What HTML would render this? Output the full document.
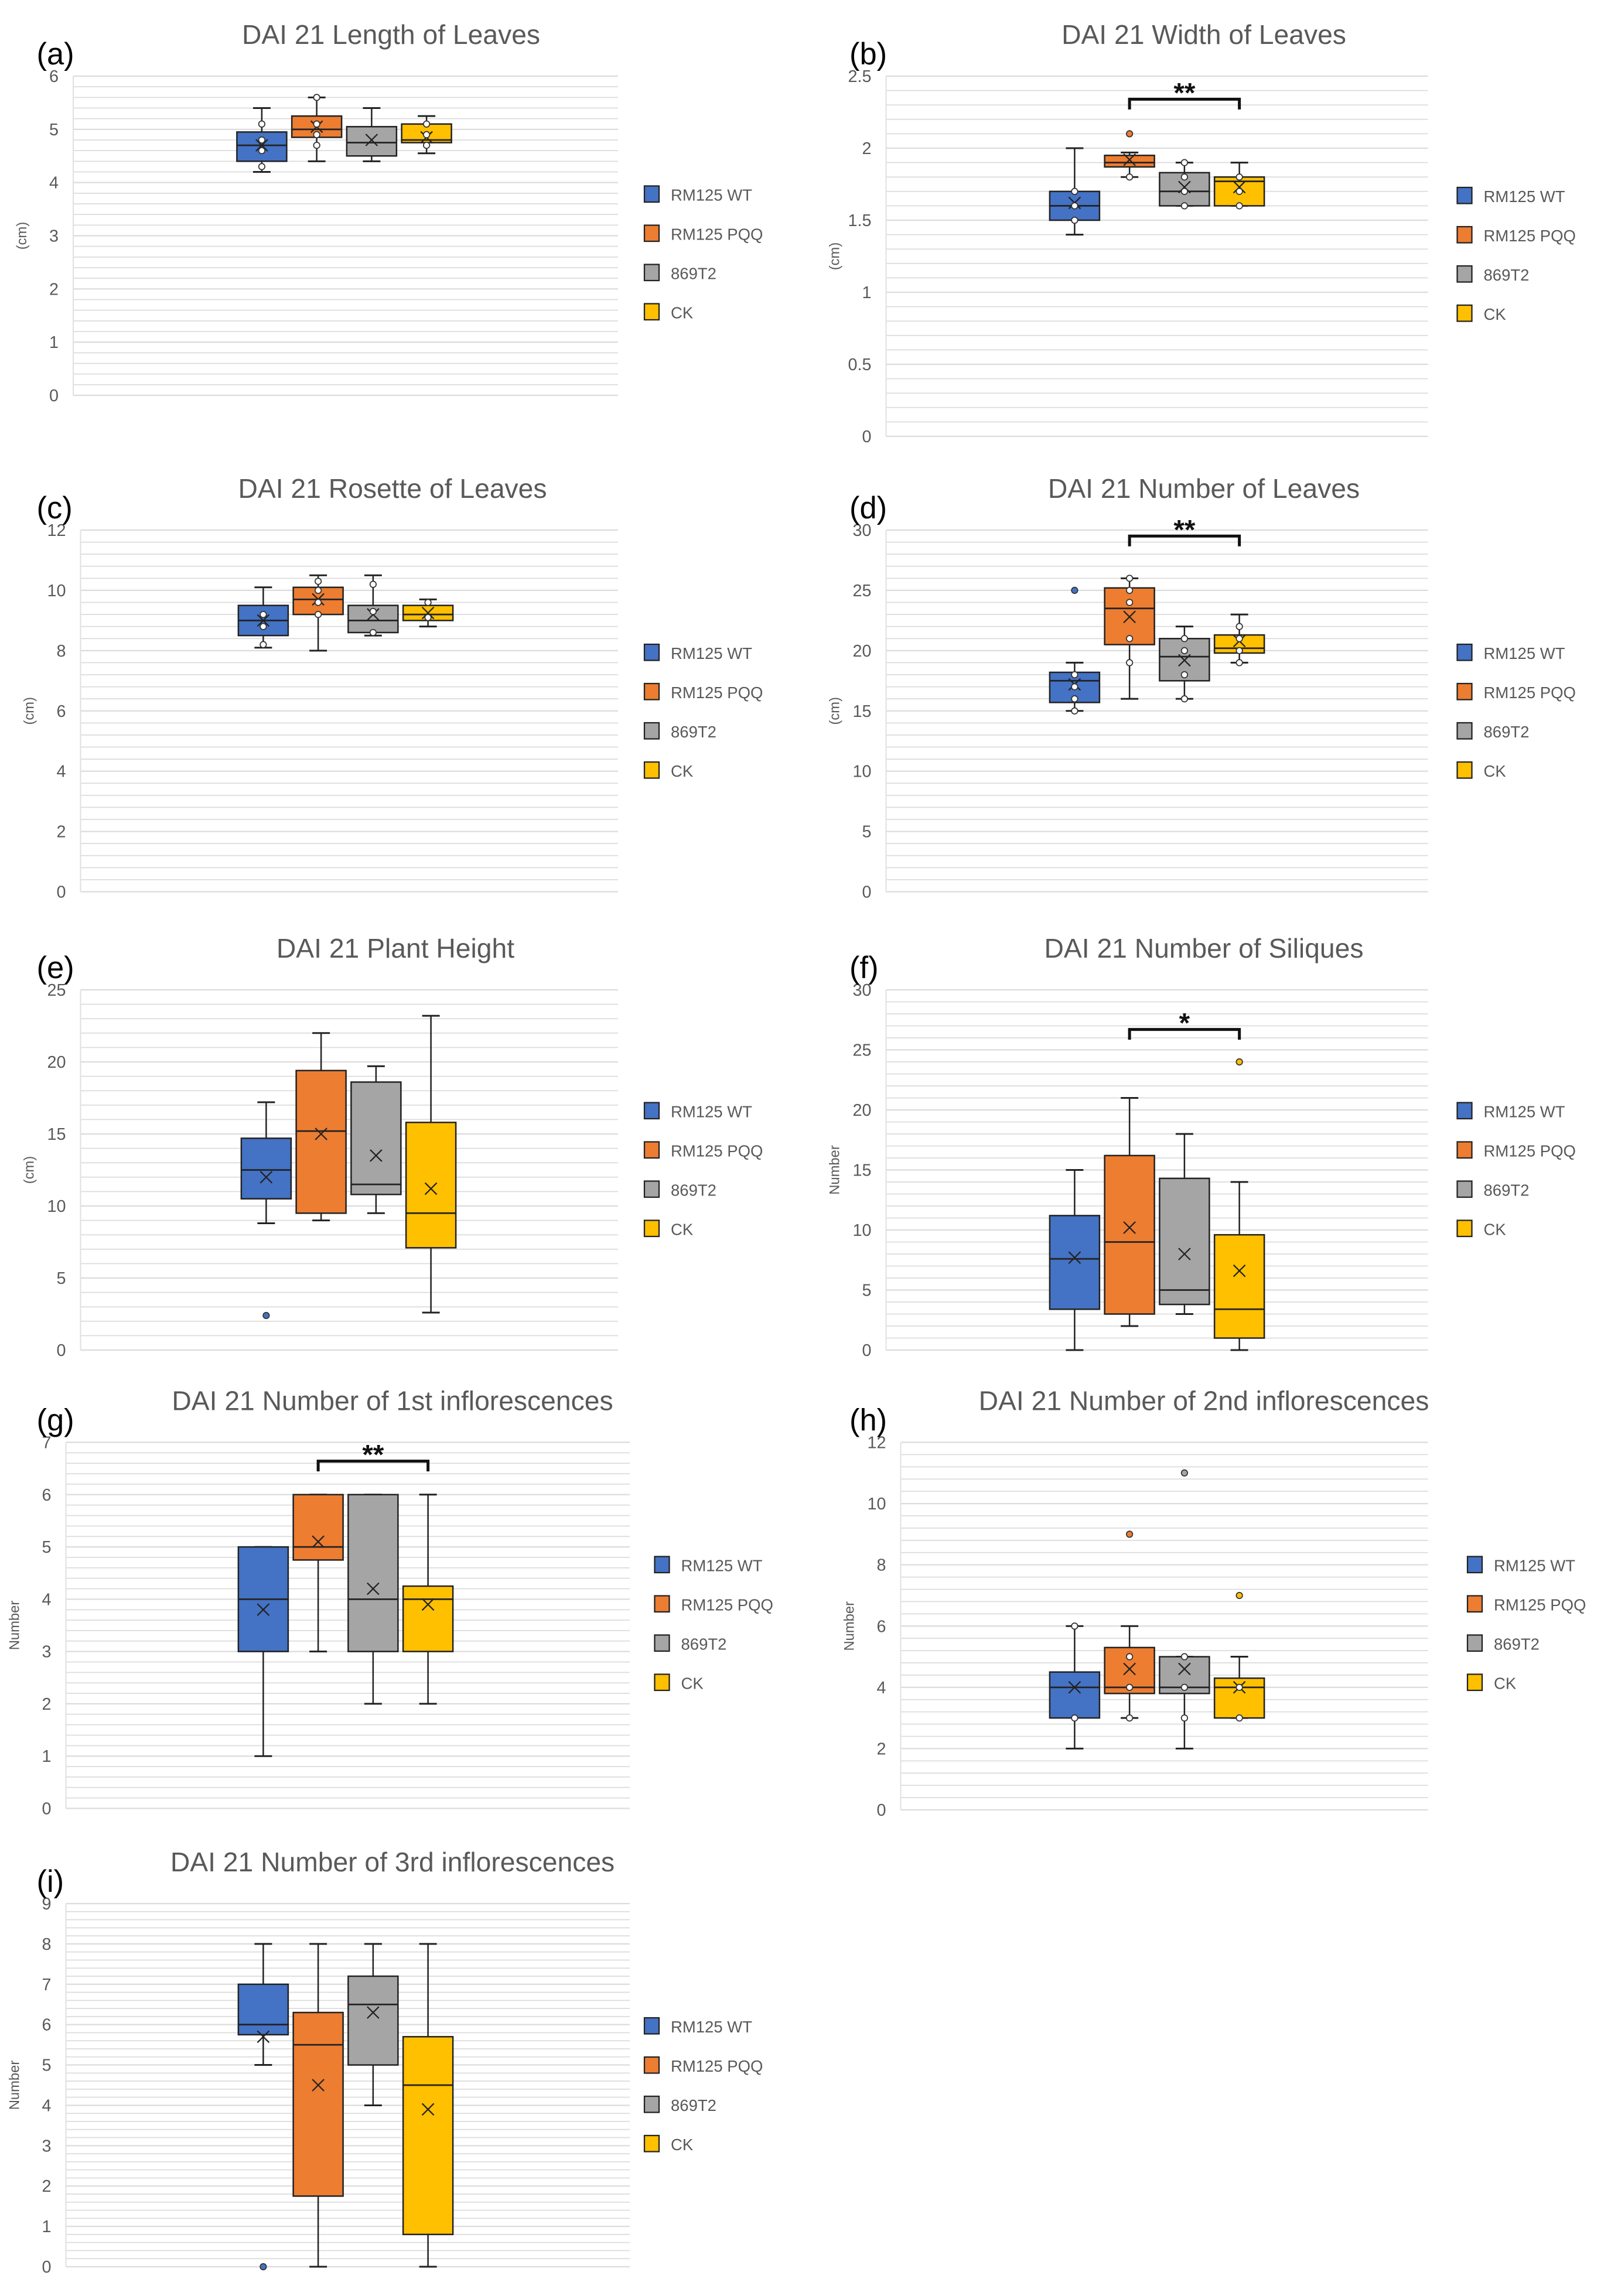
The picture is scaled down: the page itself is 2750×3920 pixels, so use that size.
<!DOCTYPE html>
<html><head><meta charset="utf-8"><style>
html,body{margin:0;padding:0;background:#fff}
svg{display:block}
text{font-family:"Liberation Sans",sans-serif}
</style></head><body>
<svg id="fig" width="2750" height="3920" viewBox="0 0 1100 1568" xmlns="http://www.w3.org/2000/svg"></svg>
<script>
const seriesNames = ["RM125 WT","RM125 PQQ","869T2","CK"];
const seriesColors = ["#4472C4","#ED7D31","#A5A5A5","#FFC000"];
// stats per series: [min, q1, median, q3, max, mean]
const statsA = [[4.2,4.4,4.7,4.95,5.4,4.7],[4.4,4.85,5.0,5.25,5.6,5.05],[4.4,4.5,4.75,5.05,5.4,4.8],[4.55,4.75,4.8,5.1,5.25,4.85]];
const pointsA = [[5.1,4.8,4.6,4.3],[5.6,5.1,4.9,4.7],[],[5.1,4.9,4.7]];
const statsB = [[1.4,1.5,1.6,1.7,2.0,1.62],[1.8,1.87,1.9,1.95,1.97,1.92],[1.6,1.6,1.7,1.83,1.9,1.73],[1.6,1.6,1.77,1.8,1.9,1.73]];
const pointsB = [[1.7,1.6,1.5],[2.1,1.8],[1.9,1.8,1.7,1.6],[1.8,1.7,1.6]];
const statsC = [[8.1,8.5,9.0,9.5,10.1,9.0],[8.0,9.2,9.7,10.1,10.5,9.7],[8.5,8.6,9.0,9.5,10.5,9.2],[8.8,9.0,9.2,9.5,9.7,9.25]];
const pointsC = [[9.2,8.8,8.2],[10.3,10.0,9.6,9.2],[10.2,9.3,8.6],[9.6,9.1]];
const statsD = [[15,15.7,17.5,18.2,19,17.2],[16,20.5,23.5,25.2,26,22.8],[16,17.5,19.5,21,22,19.2],[19,19.8,20.2,21.3,23,20.8]];
const pointsD = [[25,18,17,16,15],[26,25,24,21,19],[21,20,18,16],[22,21,20,19]];
const statsE = [[8.8,10.5,12.5,14.7,17.2,12],[9.0,9.5,15.2,19.4,22,15],[9.5,10.8,11.5,18.6,19.7,13.5],[2.6,7.1,9.5,15.8,23.2,11.2]];
const pointsE = [[2.4],[],[],[]];
const statsF = [[0,3.4,7.6,11.2,15,7.7],[2,3,9,16.2,21,10.2],[3,3.8,5,14.3,18,8],[0,1,3.4,9.6,14,6.6]];
const pointsF = [[],[],[],[24]];
const statsG = [[1,3,4,5,5,3.8],[3,4.75,5,6,6,5.1],[2,3,4,6,6,4.2],[2,3,4,4.25,6,3.9]];
const pointsG = [[],[],[],[]];
const statsH = [[2,3,4,4.5,6,4],[3,3.8,4,5.3,6,4.6],[2,3.8,4,5,5,4.6],[3,3,4,4.3,5,4]];
const pointsH = [[6,3],[9,5,4,3],[11,5,4,3],[7,4,3]];
const statsI = [[5,5.75,6,7,8,5.7],[0,1.75,5.5,6.3,8,4.5],[4,5,6.5,7.2,8,6.3],[0,0.8,4.5,5.7,8,3.9]];
const pointsI = [[0],[],[],[]];
const titles = ["DAI 21 Length of Leaves","DAI 21 Width of Leaves","DAI 21 Rosette of Leaves","DAI 21 Number of Leaves","DAI 21 Plant Height","DAI 21 Number of Siliques","DAI 21 Number of 1st inflorescences","DAI 21 Number of 2nd inflorescences","DAI 21 Number of 3rd inflorescences"];
const yMaxes = [6,2.5,12,30,25,30,7,12,9];
const yStepsMajor = [1,0.5,2,5,5,5,1,2,1];
const yTitles = ["(cm)","(cm)","(cm)","(cm)","(cm)","Number","Number","Number","Number"];
const bracketLabels = [null,"**",null,"**",null,"*","**",null,null];
const bracketValues = [null,2.34,null,29.5,null,26.7,6.64,null,null];

const allStats=[statsA,statsB,statsC,statsD,statsE,statsF,statsG,statsH,statsI];
const allPoints=[pointsA,pointsB,pointsC,pointsD,pointsE,pointsF,pointsG,pointsH,pointsI];
const layout=[
 {x0:50,x1:422,yt:52,yb:270,cx:235,lab:25,ly:133,lx:440},
 {x0:605,x1:975,yt:52,yb:298,cx:790,lab:580,ly:134,lx:995},
 {x0:55,x1:422,yt:362,yb:609,cx:236,lab:25,ly:446,lx:440},
 {x0:605,x1:975,yt:362,yb:609,cx:790,lab:580,ly:446,lx:995},
 {x0:55,x1:422,yt:676,yb:922,cx:238,lab:25,ly:759,lx:440},
 {x0:605,x1:975,yt:676,yb:922,cx:790,lab:580,ly:759,lx:995},
 {x0:45,x1:430,yt:985,yb:1235,cx:236,lab:25,ly:1069,lx:447},
 {x0:615,x1:975,yt:985,yb:1236,cx:790,lab:580,ly:1069,lx:1002},
 {x0:45,x1:430,yt:1300,yb:1548,cx:236,lab:25,ly:1384,lx:440}
];
const letters="abcdefghi";
const NS="http://www.w3.org/2000/svg";
const svg=document.getElementById('fig');
function mk(tag,attrs,parent){const e=document.createElementNS(NS,tag);for(const k in attrs)e.setAttribute(k,attrs[k]);(parent||svg).appendChild(e);return e;}
function fmt(v){return (Math.round(v*10)/10).toString();}

layout.forEach((L,p)=>{
  const g=mk('g',{});
  
  
  const ymax=yMaxes[p], step=yStepsMajor[p];
  const Y=v=>L.yb-(v/ymax)*(L.yb-L.yt);
  const X=i=>L.cx+(i-1.5)*37.5;
  const minor=step/5;
  for(let k=0;k<=Math.round(ymax/minor);k++){
    const v=k*minor; const y=Y(v);
    const ln=mk('line',{x1:L.x0,x2:L.x1,y1:y,y2:y,stroke:'#dcdcdc','stroke-width':(k%5===0)?0.9:0.7},g);
    
    
  }
  mk('line',{x1:L.x0,x2:L.x0,y1:L.yt,y2:L.yb,stroke:'#e0e0e0','stroke-width':0.8},g);
  for(let k=0;k<=Math.round(ymax/step);k++){
    const v=k*step;
    const t=mk('text',{x:L.x0-10,y:Y(v)+4,'text-anchor':'end','font-size':11.5,fill:'#595959'},g);
    t.textContent=fmt(v);
    
    
  }
  const yt=mk('text',{x:0,y:0,'text-anchor':'middle','font-size':9.5,fill:'#595959',transform:`translate(${L.x0-32},${(L.yt+L.yb)/2}) rotate(-90)`},g);
  yt.textContent=yTitles[p];
  
  
  const tt=mk('text',{x:L.cx+32,y:L.yt-22,'text-anchor':'middle','font-size':18.5,fill:'#595959'},g);
  tt.textContent=titles[p];
  
  
  const pl=mk('text',{x:L.lab,y:L.yt-8,'font-size':21,fill:'#000'},g);
  pl.textContent='('+letters[p]+')';
  
  
  allStats[p].forEach((s,i)=>{
    const [mn,q1,md,q3,mx,mean]=s; const cx=X(i), w=34;
    const bg=mk('g',{},g);
    
    
    mk('line',{x1:cx,x2:cx,y1:Y(mx),y2:Y(q3),stroke:'#222','stroke-width':1},bg);
    mk('line',{x1:cx,x2:cx,y1:Y(q1),y2:Y(mn),stroke:'#222','stroke-width':1},bg);
    mk('line',{x1:cx-6,x2:cx+6,y1:Y(mx),y2:Y(mx),stroke:'#222','stroke-width':1.2},bg);
    mk('line',{x1:cx-6,x2:cx+6,y1:Y(mn),y2:Y(mn),stroke:'#222','stroke-width':1.2},bg);
    mk('rect',{x:cx-w/2,y:Y(q3),width:w,height:Math.max(1,Y(q1)-Y(q3)),fill:seriesColors[i],stroke:'#222','stroke-width':1},bg);
    mk('line',{x1:cx-w/2,x2:cx+w/2,y1:Y(md),y2:Y(md),stroke:'#222','stroke-width':1.1},bg);
    const m=4, my=Y(mean);
    mk('path',{d:`M${cx-m},${my-m}L${cx+m},${my+m}M${cx-m},${my+m}L${cx+m},${my-m}`,stroke:'#222','stroke-width':0.9,fill:'none'},bg);
    allPoints[p][i].forEach(v=>{
      const c=mk('circle',{cx:cx,cy:Y(v),r:2.1,fill:(v>mx||v<mn)?seriesColors[i]:'#fff',stroke:'#333','stroke-width':0.7},bg);
      
      
    });
  });
  if(bracketValues[p]!==null){
    const by=Y(bracketValues[p]); const xa=X(1), xb=X(3);
    const br=mk('path',{d:`M${xa},${by+7}L${xa},${by}L${xb},${by}L${xb},${by+7}`,stroke:'#111','stroke-width':2,fill:'none'},g);
    
    
    const bt=mk('text',{x:(xa+xb)/2,y:by+2,'text-anchor':'middle','font-size':19,'font-weight':'bold',fill:'#111'},g);
    bt.textContent=bracketLabels[p];
    
    
  }
  seriesNames.forEach((n,i)=>{
    const y=L.ly+i*26.8;
    const lg=mk('g',{},g);
    
    
    mk('rect',{x:L.lx,y:y-6,width:10,height:11,fill:seriesColors[i],stroke:'#222','stroke-width':0.9},lg);
    const t=mk('text',{x:L.lx+18,y:y+4,'font-size':11,fill:'#595959'},lg);
    t.textContent=n;
  });
});
</script>
</body></html>
